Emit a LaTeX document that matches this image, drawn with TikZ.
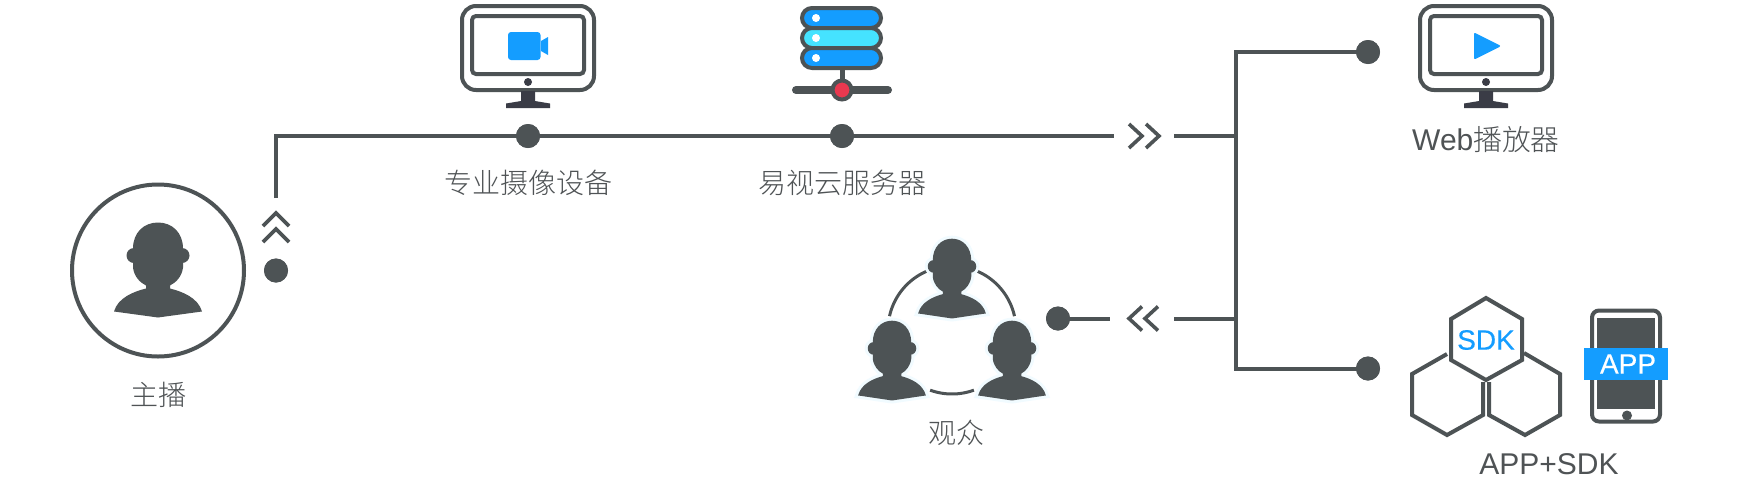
\documentclass[tikz,border=0pt]{standalone}
\usepackage{fontspec}
\setmainfont{Liberation Sans}
\newfontfamily\cjk{Noto Sans CJK SC Light}
\newfontfamily\heavy[FakeBold=0.25]{Liberation Sans}
\definecolor{ink}{HTML}{4D5355}
\definecolor{txt}{HTML}{4F5355}
\definecolor{dark}{HTML}{3A3C46}
\definecolor{azure}{HTML}{149DFF}
\definecolor{cyanb}{HTML}{45E3FF}
\definecolor{redb}{HTML}{E8384F}
\definecolor{halo}{HTML}{F1FBFF}
\newcommand{\personpath}{(-44,41) .. controls (-40,27) and (-24,21) .. (-12,18) -- (-12,15) .. controls (-18,12) and (-24,6) .. (-25,-3) -- (-25,-22) .. controls (-25,-38) and (-14,-48) .. (0,-48) .. controls (14,-48) and (25,-38) .. (25,-22) -- (25,-3) .. controls (24,6) and (18,12) .. (12,15) -- (12,18) .. controls (24,21) and (40,27) .. (44,41) -- (0,47) -- (-44,41) -- cycle
 (-24,-15) circle [radius=7.5] (24,-15) circle [radius=7.5]}
\tikzset{
 x=0.5pt,y=-0.5pt,
 lnk/.style={draw=ink,line width=2pt},
 dot/.style={circle,fill=ink,inner sep=0pt,minimum size=12pt},
 chev/.style={draw=ink,line width=1.8pt,miter limit=10},
 lab/.style={text=txt,inner sep=0pt,font=\fontsize{14}{16}\selectfont\cjk},
 latin/.style={inner sep=0pt},
 person/.pic={\fill[ink] \personpath;},
 haloperson/.pic={\path[draw=halo,fill=halo,line width=3pt] \personpath; \fill[ink] \personpath;},
 monitor/.pic={
  \draw[ink,line width=2pt,rounded corners=7pt] (-66,-130) rectangle (66,-46);
  \draw[ink,line width=2pt,rounded corners=2pt] (-56,-120) rectangle (56,-62);
  \fill[dark] (0,-54) circle [radius=4];
  \fill[dark] (-7,-45) -- (7,-45) -- (7,-35) -- (22,-32.5) -- (22,-28) -- (-22,-28) -- (-22,-32.5) -- (-7,-35) -- cycle;
 },
 chevup/.pic={\draw[chev] (-13,13) -- (0,0) -- (13,13) (-13,29) -- (0,16) -- (13,29);},
 chevright/.pic={\draw[chev] (-13,-12) -- (0,0) -- (-13,12) (4,-12) -- (17,0) -- (4,12);},
 chevleft/.pic={\draw[chev] (13,-12) -- (0,0) -- (13,12) (29,-12) -- (16,0) -- (29,12);},
}
\begin{document}
\begin{tikzpicture}
\useasboundingbox[fill=white] (0,0) rectangle (1740,478);

% connectors
\coordinate (vtop) at (276,198);
\coordinate (gapa) at (1114,136);
\coordinate (gapb) at (1174,136);
\coordinate (trunk) at (1236,136);
\coordinate (gapc) at (1110,318.5);
\coordinate (gapd) at (1174,318.5);
\coordinate (trunkb) at (1236,318.5);
\node[dot] (dhost) at (276,270.5) {};
\node[dot] (dcam) at (528,136) {};
\node[dot] (dsrv) at (842,136) {};
\node[dot] (dweb) at (1368,52) {};
\node[dot] (dapp) at (1368,368.5) {};
\node[dot] (daud) at (1058,318.5) {};
\draw[lnk] (vtop) |- (dcam.center) -- (dsrv.center) -- (gapa);
\draw[lnk] (gapb) -- (trunk);
\draw[lnk] (dweb.center) -| (trunk) |- (dapp.center);
\draw[lnk] (daud.center) -- (gapc);
\draw[lnk] (gapd) -- (trunkb);
\node[dot] at (dhost) {};
\node[dot] at (dcam) {};
\node[dot] at (dsrv) {};
\node[dot] at (dweb) {};
\node[dot] at (dapp) {};
\node[dot] at (daud) {};
\pic at (276,213) {chevup};
\pic at (1142,136) {chevright};
\pic at (1129,318.5) {chevleft};

% host
\node[circle,draw=ink,line width=2pt,minimum size=86pt,inner sep=0pt] (host) at (158,270.5) {};
\pic at (158,270.5) {person};
\node[lab] (hostlab) at (158,395) {主播};

% camera monitor
\pic at (528,136) {monitor};
\fill[azure,rounded corners=1.5pt] (508,32) rectangle (540.5,60);
\fill[azure] (541,41) -- (548,37) -- (548,55) -- (541,51) -- cycle;
\node[lab] (camlab) at (528,183) {专业摄像设备};

% server
\draw[ink,line width=2.5pt] (842,66) -- (842,90);
\draw[ink,line width=4pt,line cap=round] (796,90) -- (888,90);
\filldraw[draw=ink,fill=azure,line width=2pt,rounded corners=5pt] (802,8) rectangle (881,28);
\filldraw[draw=ink,fill=cyanb,line width=2pt,rounded corners=5pt] (802,28) rectangle (881,48);
\filldraw[draw=ink,fill=azure,line width=2pt,rounded corners=5pt] (802,48) rectangle (881,68);
\fill[white] (816,18) circle [radius=4] (816,38) circle [radius=4] (816,58) circle [radius=4];
\filldraw[draw=ink,fill=redb,line width=2pt] (842,90) circle [radius=9.5];
\node[lab] (srvlab) at (842,183) {易视云服务器};

% web monitor
\pic at (1486,136) {monitor};
\fill[azure,draw=azure,line width=1pt,line join=round] (1475,34) -- (1499,46) -- (1475,58) -- cycle;
\node[text=txt,inner sep=0pt] (weblab) at (1486,140) {\fontsize{15}{16}\selectfont Web\fontsize{14.4}{16}\selectfont\cjk 播放器};

% audience
\draw[ink,line width=1.5pt] plot[domain=192.5:247,samples=30,smooth] ({952+64*cos(\x)},{330+64*sin(\x)});
\draw[ink,line width=1.5pt] plot[domain=293:347.5,samples=30,smooth] ({952+64*cos(\x)},{330+64*sin(\x)});
\draw[ink,line width=1.5pt] plot[domain=70:110,samples=20,smooth] ({952+64*cos(\x)},{330+64*sin(\x)});
\pic[xscale=.77,yscale=.84] at (952,279) {haloperson};
\pic[xscale=.77,yscale=.84] at (892,361) {haloperson};
\pic[xscale=.77,yscale=.84] at (1012,361) {haloperson};
\node[lab] (audlab) at (956,433) {观众};

% hexagons
\draw[ink,line width=2pt,line join=miter] (1447,354) -- (1412,374) -- (1412,415) -- (1447,435) -- (1483,415) -- (1483,382);
\draw[ink,line width=2pt,line join=miter] (1524,353) -- (1560,374) -- (1560,415) -- (1525,435) -- (1489,415) -- (1489,382);
\draw[ink,line width=2pt,line join=miter] (1486,298) -- (1522,319) -- (1522,360) -- (1486,380) -- (1451,360) -- (1451,319) -- cycle;
\node[latin,text=azure,font=\fontsize{14}{16}\selectfont\heavy] (sdk) at (1486,340) {SDK};

% phone
\draw[ink,line width=2pt,rounded corners=3.5pt] (1592,310.5) rectangle (1660,421.5);
\fill[ink] (1597,317.5) rectangle (1655,408.5);
\fill[ink] (1627,415.5) circle [radius=5];
\fill[azure] (1584,348) rectangle (1668,380);
\node[latin,text=white,font=\fontsize{14}{16}\selectfont\heavy] (app) at (1628,364) {APP};
\node[latin,text=txt,font=\fontsize{15}{16}\selectfont] (applab) at (1549,464) {APP+SDK};
\end{tikzpicture}
\end{document}
